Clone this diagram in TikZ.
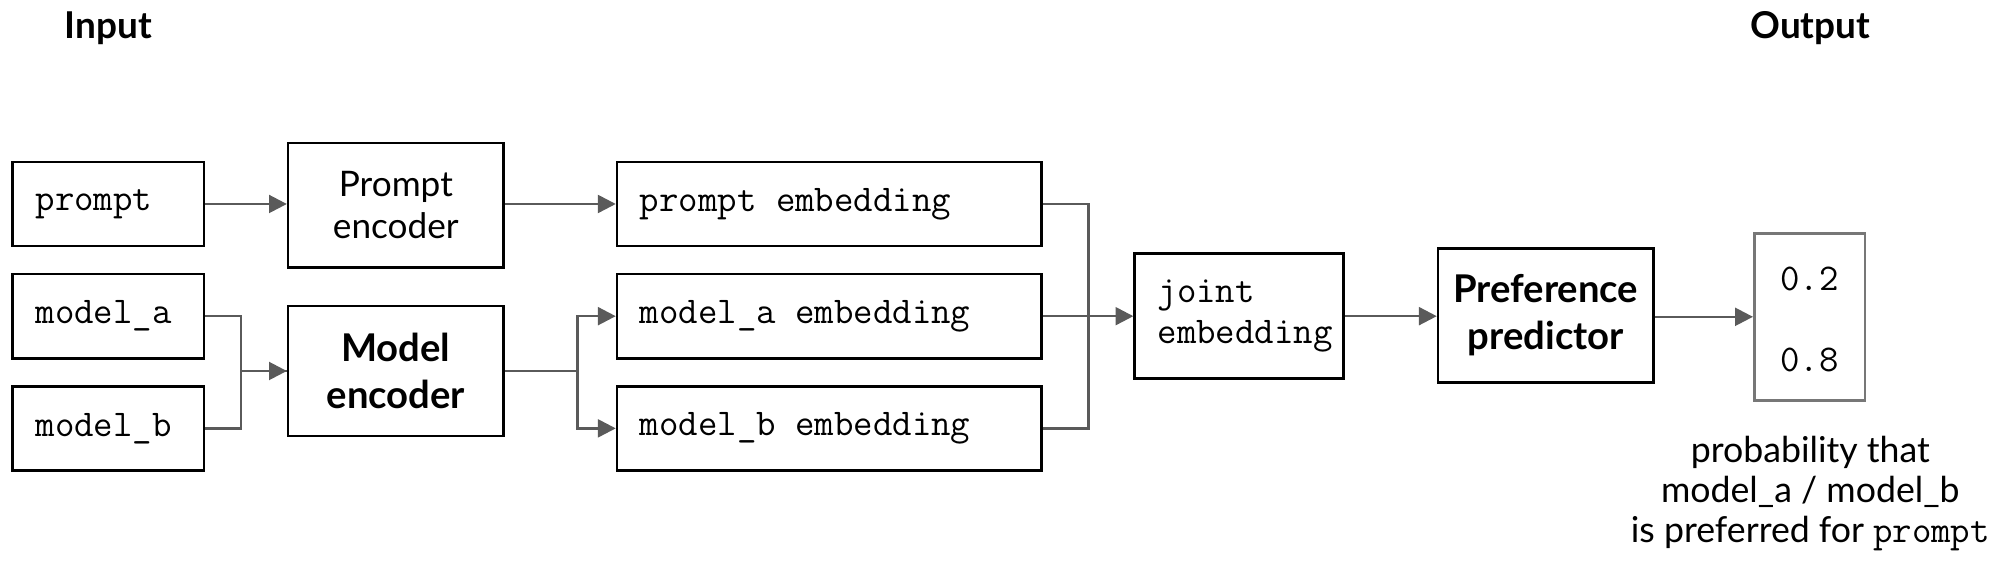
\documentclass[tikz,border=0pt]{standalone}
\usepackage{fontspec}
\setmainfont{Lato}
\usetikzlibrary{arrows.meta}
\definecolor{linegray}{HTML}{5A5A5A}
\definecolor{outgray}{HTML}{777777}
\newcommand{\msp}{\phantom{x}}
\tikzset{
  box/.style={draw=black, line width=1pt, inner sep=0pt},
  monobox/.style={box, font=\fontsize{14.8}{16}\selectfont\ttfamily, align=left, inner xsep=9pt, minimum height=#1},
  encbox/.style={box, align=center, font=\fontsize{13.8}{16.5}\selectfont},
  boldbox/.style={box, align=center, font=\fontsize{15}{18.5}\selectfont\bfseries},
  conn/.style={draw=linegray, line width=1pt},
  arr/.style={conn, -{Triangle[length=7pt,width=7pt]}},
  title/.style={font=\fontsize{14.5}{16}\selectfont\bfseries},
}
\begin{document}
\begin{tikzpicture}[x=0.5pt,y=-0.5pt]
\useasboundingbox (0,0) rectangle (1568,450);
% titles
\node[title] (tin) at (85,22) {Input};
\node[title] (tout) at (1420,22) {Output};
% inputs
\node[monobox=33pt, text width=57pt] (prompt) at (85,160) {prompt};
\node[monobox=33pt, text width=57pt] (ma) at (85,248) {model\_a};
\node[monobox=33pt, text width=57pt] (mb) at (85,336) {model\_b};
% encoders
\node[encbox, minimum width=84.5pt, minimum height=49pt] (pe) at (310.5,161) {Prompt\\encoder};
\node[boldbox, minimum width=84.5pt, minimum height=51pt] (me) at (310.5,291) {Model\\encoder};
% embeddings
\node[monobox=33pt, text width=148.5pt] (pemb) at (650.5,160) {prompt\msp embedding};
\node[monobox=33pt, text width=148.5pt] (maemb) at (650.5,248) {model\_a\msp embedding};
\node[monobox=33pt, text width=148.5pt] (mbemb) at (650.5,336) {model\_b\msp embedding};
% joint
\node[monobox=49pt, text width=64pt] (joint) at (972,248) {joint\\embedding};
% predictor
\node[boldbox, minimum width=84.5pt, minimum height=52.5pt] (pref) at (1212.5,247.5) {Preference\\predictor};
% output
\node[draw=outgray, line width=1pt, minimum width=43.5pt, minimum height=65.5pt] (out) at (1419.5,248.5) {};
\node[font=\fontsize{14.8}{16}\selectfont\ttfamily] (p1) at (1419.5,219) {0.2};
\node[font=\fontsize{14.8}{16}\selectfont\ttfamily] (p2) at (1419.5,282) {0.8};
% caption
\node[align=center, font=\fontsize{14}{15.75}\selectfont] (cap) at (1420,387) {probability that\\model\_a / model\_b\\is preferred for {\fontsize{14.8}{15.75}\selectfont\ttfamily prompt}};
% connectors
\draw[arr] (prompt.east) -- (prompt.east -| pe.west);
\draw[conn] (ma.east) -- ++(14pt,0) coordinate (mj) |- (me.west);
\draw[conn] (mb.east) -- ++(14pt,0) |- (me.west);
\draw[arr] (mj |- me.west) -- (me.west);
\draw[arr] (pe.east |- pemb.west) -- (pemb.west);
\draw[conn] (me.east) -- ++(28.5pt,0) coordinate (split);
\draw[arr] (split) |- (maemb.west);
\draw[arr] (split) |- (mbemb.west);
\draw[conn] (pemb.east) -- ++(18pt,0) |- (mbemb.east);
\draw[arr] (maemb.east) -- (joint.west);
\draw[arr] (joint.east) -- (joint.east -| pref.west);
\draw[arr] (pref.east |- out.west) -- (out.west);
\end{tikzpicture}
\end{document}
